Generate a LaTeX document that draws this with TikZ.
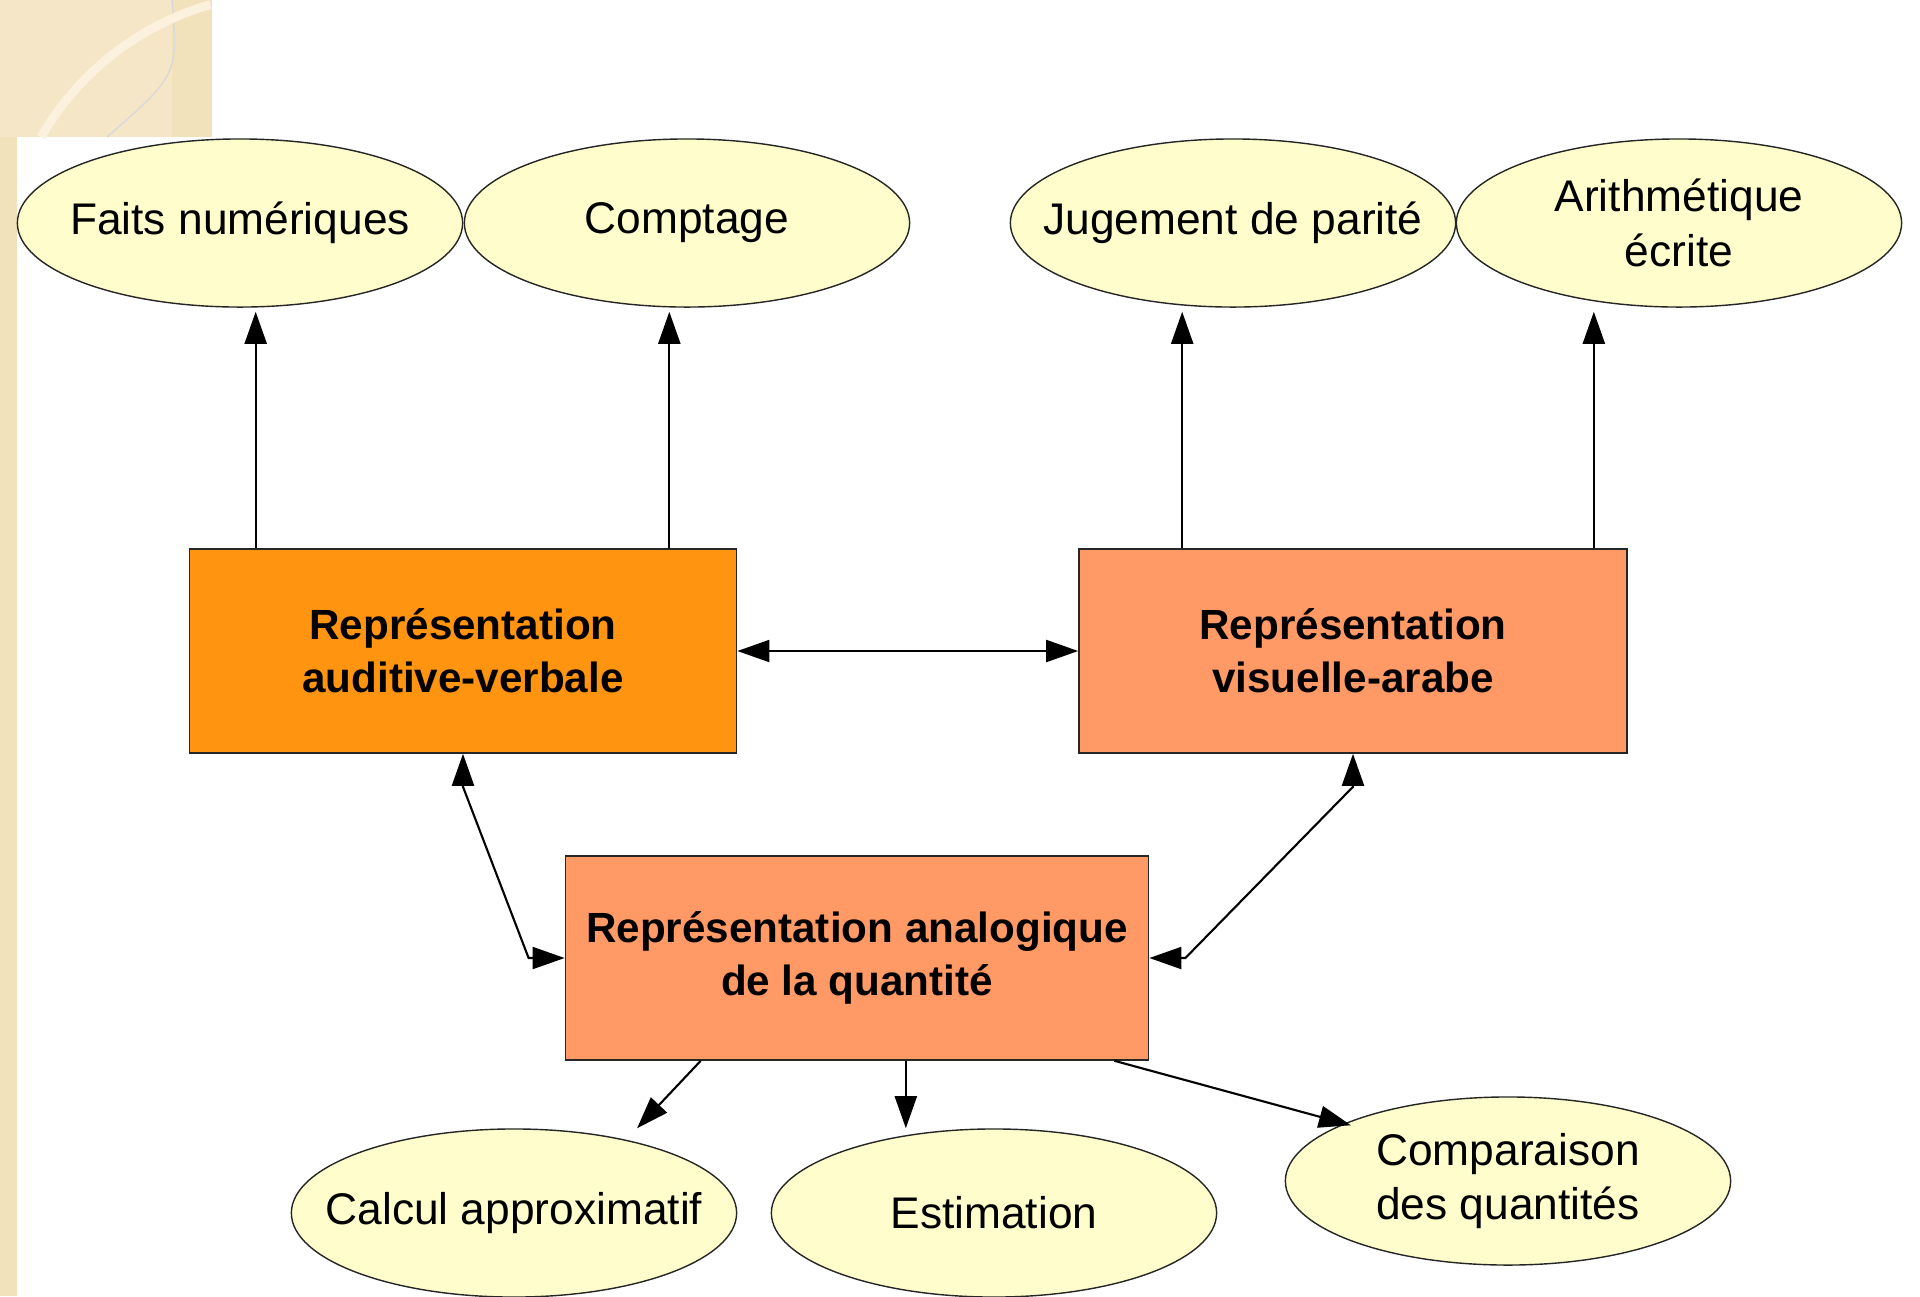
\documentclass[tikz,border=0pt]{standalone}
\usepackage{fontspec}
\setmainfont{Liberation Sans}
\usepackage{xcolor}
\usetikzlibrary{arrows.meta,shapes.geometric}

\definecolor{paper}{HTML}{F2E2BC}
\definecolor{paperlight}{HTML}{F5E6C8}
\definecolor{cream}{HTML}{FBF1DC}
\definecolor{leafyellow}{HTML}{FFFDCB}
\definecolor{audorange}{HTML}{FF9411}
\definecolor{salmon}{HTML}{FF9966}

\begin{document}
\begin{tikzpicture}[x=0.01cm, y=-0.01cm,
      leaf/.style={ellipse, draw=black!85, fill=leafyellow, minimum width=4.45cm,
        minimum height=1.68cm, inner xsep=-0.45cm, inner ysep=0pt, align=center,
        font=\fontsize{12.6}{15.5}\selectfont},
      rep/.style={rectangle, draw=black!85, minimum height=2.04cm, align=center,
        font=\bfseries\fontsize{12}{15}\selectfont},
      arr/.style={-{Triangle[length=3.2mm, width=2.2mm]}, semithick},
      darr/.style={{Triangle[length=3.2mm, width=2.2mm]}-{Triangle[length=3.2mm, width=2.2mm]}, semithick}]
    \useasboundingbox (0,0) rectangle (1920,1296);
    % slide background
    \fill[white] (0,0) rectangle (1920,1296);
    \fill[paper] (0,0) rectangle (212,137);
    \fill[paper] (0,0) rectangle (17,1296);
    \fill[paperlight] (0,0) rectangle (172,137);
    \draw[black!15, thin] (172,0) .. controls (178,75) .. (107,137);
    \draw[cream, line width=2.5pt] (41,137) arc[start angle=150, end angle=106, radius=2.87cm];

    % top row
    \node[leaf] (faits) at (240,223) {Faits numériques};
    \node[leaf] (compt) at (687,223) {Comptage};
    \node[leaf] (parite) at (1233,223) {Jugement de parité};
    \node[leaf] (arith) at (1679,223) {Arithmétique\\écrite};

    % representations
    \node[rep, fill=audorange, minimum width=5.47cm] (audit) at (463,651) {Représentation\\auditive-verbale};
    \node[rep, fill=salmon, minimum width=5.48cm] (visu) at (1353,651) {Représentation\\visuelle-arabe};
    \node[rep, fill=salmon, minimum width=5.83cm] (analog) at (857,958) {Représentation analogique\\de la quantité};

    % bottom row
    \node[leaf] (calc) at (514,1213) {Calcul approximatif};
    \node[leaf] (estim) at (994,1213) {Estimation};
    \node[leaf] (compar) at (1508,1181) {Comparaison\\des quantités};

    % upward links
    \draw[arr] ([xshift=0.67cm]audit.north west) -- ([xshift=0.67cm, yshift=-0.04cm]audit.north west |- faits.south);
    \draw[arr] ([xshift=-0.68cm]audit.north east) -- ([xshift=-0.68cm, yshift=-0.04cm]audit.north east |- compt.south);
    \draw[arr] ([xshift=1.04cm]visu.north west) -- ([xshift=1.04cm, yshift=-0.04cm]visu.north west |- parite.south);
    \draw[arr] ([xshift=-0.34cm]visu.north east) -- ([xshift=-0.34cm, yshift=-0.04cm]visu.north east |- arith.south);

    % exchanges between representations
    \draw[darr] (audit.east) -- (visu.west);
    \draw[darr] (audit.south) -- ([yshift=-0.33cm]audit.south) -- ([xshift=-0.36cm]analog.west) -- (analog.west);
    \draw[darr] (visu.south) -- ([yshift=-0.33cm]visu.south) -- ([xshift=0.36cm]analog.east) -- (analog.east);

    % downward links
    \draw[arr] ([xshift=1.36cm]analog.south west) -- ([xshift=1.23cm]calc.north);
    \draw[arr] ([xshift=3.41cm]analog.south west) -- ([xshift=3.41cm]analog.south west |- estim.north);
    \draw[arr] ([xshift=-0.35cm]analog.south east) -- ([xshift=-1.57cm, yshift=-0.29cm]compar.north);
  \end{tikzpicture}
\end{document}
